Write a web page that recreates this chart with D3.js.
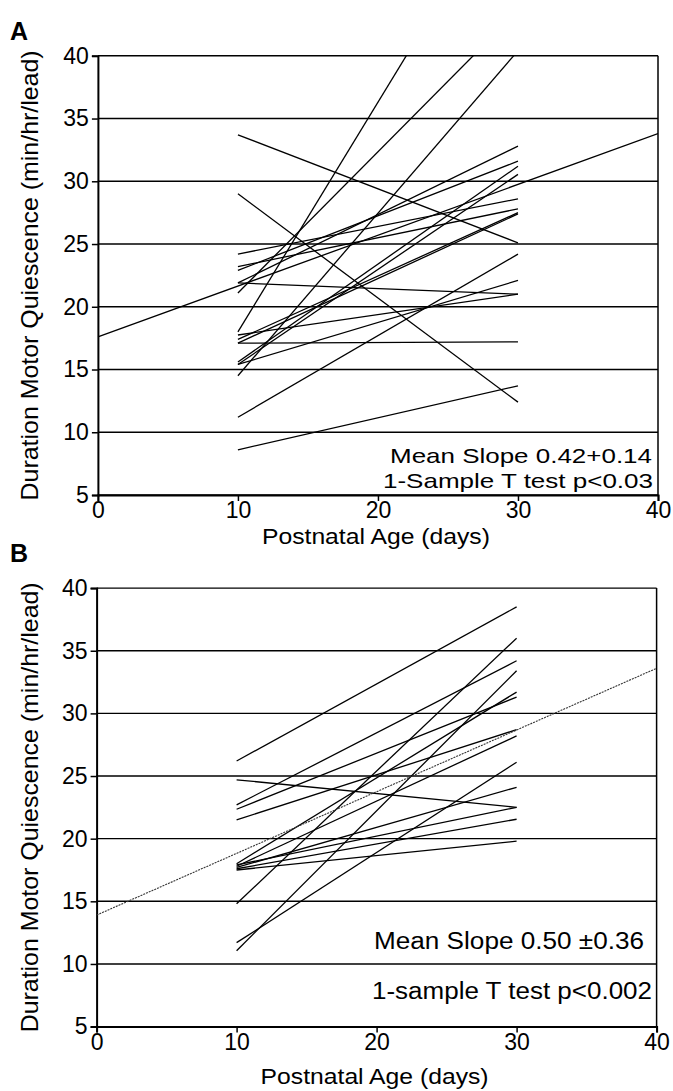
<!DOCTYPE html>
<html lang="en">
<head>
<meta charset="UTF-8">
<title>Motor quiescence vs postnatal age</title>
<script src="https://d3js.org/d3.v7.min.js"></script>
<style>
  body { margin: 0; background: #fff; }
  svg text { font-family: "Liberation Sans", Arial, Helvetica, sans-serif; fill: #000; }
</style>
</head>
<body>
<svg id="chart" width="673" height="1091"></svg>
<script>
// axis ticks
const xTicks = [0, 10, 20, 30, 40];
const yTicks = [5, 10, 15, 20, 25, 30, 35, 40];
const days = [10, 30];

// panel A: value at day 10 and day 30 for each animal
const aDay10 = [33.7, 29.0, 21.9, 17.1, 8.6, 18.0, 21.1, 14.5, 11.2, 15.4, 17.75, 15.6, 15.4, 17.4, 17.1, 24.2, 23.2, 22.9, 21.9];
const aDay30 = [25.1, 12.4, 21.0, 17.2, 13.7, 54.6, 43.6, 40.4, 24.2, 22.1, 21.0, 31.2, 30.55, 27.5, 27.4, 28.6, 27.8, 31.6, 32.8];
// panel A pooled regression line
const aFitDays = [0, 40];
const aFit = [17.6, 33.8];

// panel B
const bDay10 = [26.2, 24.7, 22.7, 22.35, 21.5, 14.8, 11.7, 11.05, 18.0, 17.8, 17.7, 17.9, 17.6, 17.5];
const bDay30 = [38.5, 22.5, 34.2, 31.3, 28.7, 36.0, 26.1, 33.4, 31.7, 28.2, 24.1, 22.5, 21.55, 19.8];
const bFitDays = [0, 40];
const bFit = [13.9, 33.6];

const svg = d3.select('#chart');

function panel(p) {
    const { id, top, bottom, left, right } = p;
    const x = d3.scaleLinear().domain([0, 40]).range([left, right]);
    const y = d3.scaleLinear().domain([5, 40]).range([bottom, top]);
    const g = svg.append('g');

    g.append('clipPath').attr('id', 'clip' + id)
        .append('rect')
        .attr('x', left).attr('y', top)
        .attr('width', right - left).attr('height', bottom - top);

    // panel letter
    g.append('text')
        .attr('x', 10).attr('y', p.letterY)
        .style('font-size', '25px').style('font-weight', 'bold')
        .text(id);

    // horizontal grid lines
    g.append('g').selectAll('line')
        .data(yTicks)
        .join('line')
        .attr('x1', left).attr('x2', right)
        .attr('y1', d => y(d)).attr('y2', d => y(d))
        .attr('stroke', '#000').attr('stroke-width', 1.4);

    // right border
    g.append('line')
        .attr('x1', right).attr('x2', right)
        .attr('y1', top).attr('y2', bottom)
        .attr('stroke', '#000').attr('stroke-width', 1.5);

    // axes
    const yAxis = g.append('g')
        .attr('transform', `translate(${left},0)`)
        .call(d3.axisLeft(y).tickValues(yTicks).tickSize(6).tickPadding(3).tickFormat(d3.format('d')));
    const xAxis = g.append('g')
        .attr('transform', `translate(0,${bottom})`)
        .call(d3.axisBottom(x).tickValues(xTicks).tickSize(6).tickPadding(1).tickFormat(d3.format('d')));
    [yAxis, xAxis].forEach(a => {
        a.select('.domain').attr('stroke', '#000').attr('stroke-width', 2);
        a.selectAll('.tick line').attr('stroke', '#000').attr('stroke-width', 1.5);
        a.selectAll('.tick text').style('font-size', '23px').attr('fill', '#000');
    });

    // axis titles
    g.append('text')
        .attr('transform', `translate(38,${(top + bottom) / 2}) rotate(-90)`)
        .attr('text-anchor', 'middle')
        .attr('textLength', 450).attr('lengthAdjust', 'spacingAndGlyphs')
        .style('font-size', '24px')
        .text('Duration Motor Quiescence (min/hr/lead)');
    g.append('text')
        .attr('x', (left + right) / 2 - 2).attr('y', bottom + p.titleGap)
        .attr('text-anchor', 'middle')
        .attr('textLength', 228).attr('lengthAdjust', 'spacingAndGlyphs')
        .style('font-size', '22px')
        .text('Postnatal Age (days)');

    // one line per animal
    const line = d3.line().x(d => x(d[0])).y(d => y(d[1]));
    const plot = g.append('g').attr('clip-path', `url(#clip${id})`);
    plot.selectAll('path.animal')
        .data(p.day10.map((v, i) => [[days[0], v], [days[1], p.day30[i]]]))
        .join('path')
        .attr('class', 'animal')
        .attr('d', line)
        .attr('fill', 'none')
        .attr('stroke', '#000')
        .attr('stroke-width', 1.3);

    plot.append('path')
        .attr('d', line(p.fitDays.map((d, i) => [d, p.fit[i]])))
        .attr('fill', 'none')
        .attr('stroke', p.fitColor)
        .attr('stroke-width', p.fitWidth)
        .attr('stroke-dasharray', p.fitDash);

    // statistics text
    p.notes.forEach(n => {
        g.append('text')
            .attr('x', n.x).attr('y', n.y)
            .attr('text-anchor', 'end')
            .attr('textLength', n.w).attr('lengthAdjust', 'spacingAndGlyphs')
            .style('font-size', n.size + 'px')
            .text(n.text);
    });
}

panel({
    id: 'A', top: 55.8, bottom: 495, left: 97.9, right: 658, letterY: 40, titleGap: 49,
    day10: aDay10, day30: aDay30, fitDays: aFitDays, fit: aFit,
    fitColor: '#000', fitWidth: 1.3, fitDash: null,
    notes: [{ text: 'Mean Slope 0.42+0.14', x: 652, y: 463, w: 262, size: 21 },
            { text: '1-Sample T test p<0.03', x: 653, y: 488, w: 270, size: 21 }]
});

panel({
    id: 'B', top: 588.1, bottom: 1026.6, left: 96.6, right: 656.6, letterY: 562, titleGap: 57,
    day10: bDay10, day30: bDay30, fitDays: bFitDays, fit: bFit,
    fitColor: '#333', fitWidth: 1.1, fitDash: '2,1',
    notes: [{ text: 'Mean Slope 0.50 \u00b10.36', x: 644, y: 949, w: 270, size: 23 },
            { text: '1-sample T test p<0.002', x: 652, y: 999, w: 280, size: 23 }]
});
</script>
</body>
</html>
